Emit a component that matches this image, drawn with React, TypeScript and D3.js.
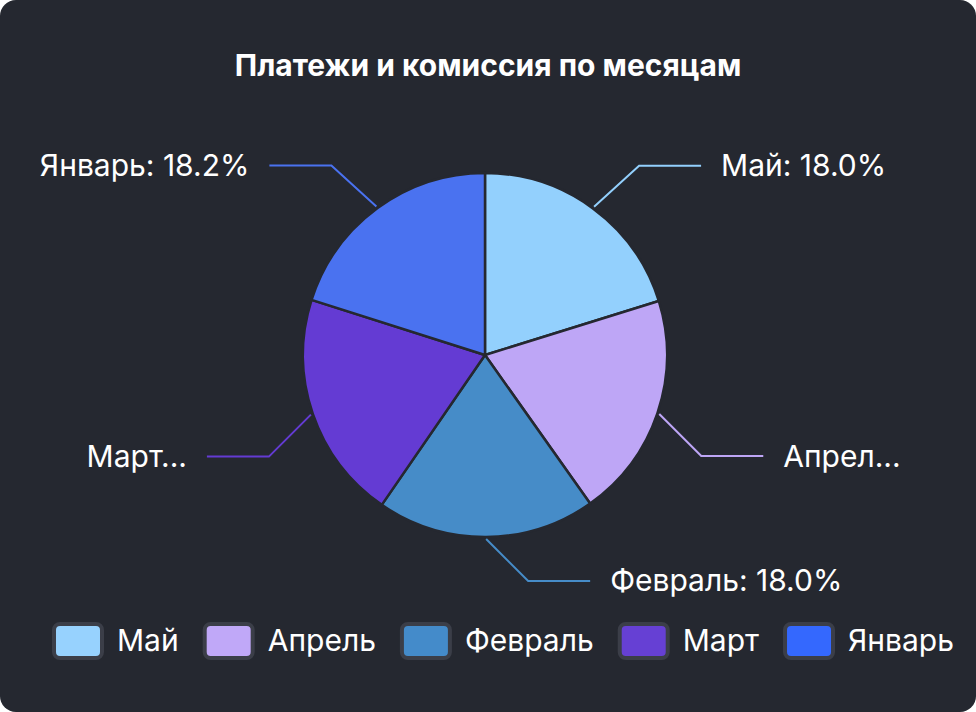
import React, { useRef, useEffect } from "react";
import * as d3 from "d3";

// slice order, clockwise from 12 o'clock
const months = ["Май", "Апрель", "Февраль", "Март", "Январь"];
const payments = [20.2, 20.0, 19.4, 20.3, 20.1];
const sliceLabels = ["Май: 18.0%", "Апрел...", "Февраль: 18.0%", "Март...", "Январь: 18.2%"];
const sliceColors = ["#93d0fd", "#bea6f6", "#468cc8", "#643bd3", "#4a72f0"];
const legendColors = ["#97d2fe", "#c0a8f8", "#448bca", "#6640d4", "#3468fe"];

const W = 976;
const H = 712;
const BG = "#252830";
const FONT = "Inter, 'Noto Sans', sans-serif";

export default function App() {
  const ref = useRef<HTMLDivElement>(null);

  useEffect(() => {
    if (!ref.current) return;
    ref.current.innerHTML = "";
    document.body.style.margin = "0";

    const svg = d3.select(ref.current)
      .append("svg")
      .attr("width", W)
      .attr("height", H)
      .style("display", "block")
      .style("font-family", FONT);

    svg.append("rect")
      .attr("width", W)
      .attr("height", H)
      .attr("rx", 16)
      .attr("fill", BG);

    svg.append("text")
      .attr("x", W / 2)
      .attr("y", 76)
      .attr("text-anchor", "middle")
      .attr("fill", "#ffffff")
      .style("font-size", "30px")
      .style("font-weight", "700")
      .text("Платежи и комиссия по месяцам");

    const cx = 485, cy = 355, r = 182;
    const data = months.map((m, i) => ({ month: m, value: payments[i], label: sliceLabels[i], i }));

    const pie = d3.pie<typeof data[0]>()
      .value(d => d.value)
      .sort(null)
      .startAngle(0)
      .endAngle(2 * Math.PI);
    const arcs = pie(data);

    const arcGen = d3.arc<d3.PieArcDatum<typeof data[0]>>()
      .innerRadius(0)
      .outerRadius(r);
    const edgeArc = d3.arc<d3.PieArcDatum<typeof data[0]>>()
      .innerRadius(r + 2)
      .outerRadius(r + 2);

    const g = svg.append("g").attr("transform", `translate(${cx},${cy})`);

    g.selectAll("path.slice")
      .data(arcs)
      .join("path")
      .attr("class", "slice")
      .attr("d", arcGen as any)
      .attr("fill", d => sliceColors[d.data.i])
      .attr("stroke", BG)
      .attr("stroke-width", 2.5)
      .attr("stroke-linejoin", "round");

    // leader lines: diagonal out from the rim, then a horizontal run
    const run = 62, gap = 20;
    arcs.forEach(a => {
      const [px, py] = edgeArc.centroid(a);
      const sx = px >= 0 ? 1 : -1;
      const sy = py < 0 ? -1 : 1;
      const dxDiag = sy < 0 ? 45 : 42;
      const dyDiag = sy < 0 ? 41 : 42;
      const ex = px + sx * dxDiag, ey = py + sy * dyDiag;
      const hx = ex + sx * run;
      g.append("polyline")
        .attr("points", `${px},${py} ${ex},${ey} ${hx},${ey}`)
        .attr("fill", "none")
        .attr("stroke", sliceColors[a.data.i])
        .attr("stroke-width", 2);
      g.append("text")
        .attr("x", hx + sx * gap)
        .attr("y", ey)
        .attr("dy", "0.35em")
        .attr("text-anchor", sx > 0 ? "start" : "end")
        .attr("fill", "#ffffff")
        .style("font-size", "30px")
        .text(a.data.label);
    });

    // legend
    const lg = svg.append("g");
    let x = 52;
    const ly = 622;
    months.forEach((m, i) => {
      lg.append("rect")
        .attr("x", x + 2)
        .attr("y", ly + 2)
        .attr("width", 48)
        .attr("height", 34)
        .attr("rx", 6)
        .attr("fill", legendColors[i])
        .attr("stroke", "#3b3e48")
        .attr("stroke-width", 4);
      const t = lg.append("text")
        .attr("x", x + 65)
        .attr("y", ly + 18)
        .attr("dy", "0.35em")
        .attr("fill", "#ffffff")
        .style("font-size", "30px")
        .text(m);
      const tw = (t.node() as SVGTextElement).getComputedTextLength();
      x += 65 + tw + 24;
    });
  }, []);

  return <div ref={ref} />;
}
